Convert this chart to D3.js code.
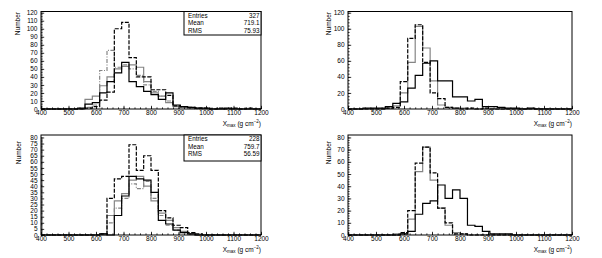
<!DOCTYPE html>
<html>
<head>
<meta charset="utf-8">
<script src="https://cdn.jsdelivr.net/npm/d3@7"></script>
<style>
  body { margin: 0; background: #fff; }
  svg { display: block; font-family: "Liberation Sans", Arial, sans-serif; }
</style>
</head>
<body>
<svg width="602" height="258"></svg>
<script>
var svg = d3.select("svg");

// binning: 30 bins from 400 to 1200 g/cm2
var xLo = 400, xHi = 1200, nBins = 30;
var xTicks = [400, 500, 600, 700, 800, 900, 1000, 1100, 1200];

// top left
var tlDash    = [0,0,0,0,0,0,1,3,11,21,100,108,64,40,40,24,24,17,4,3,2,1,1,0,1,0,1,0,1,0];
var tlDashDot = [0,0,0,0,0,0,2,5,48,73,52,55,50,42,30,22,16,10,4,2,1,0,0,0,0,0,0,0,0,0];
var tlBlack   = [0,0,0,0,0,1,6,8,20,34,45,58,34,28,22,18,12,20,5,3,2,1,1,0,0,1,0,0,0,0];
var tlGray    = [0,0,0,0,0,0,12,16,29,40,50,53,55,52,34,20,16,8,3,2,1,1,0,0,0,0,0,0,0,0];
var tlStats   = [["Entries", "327"], ["Mean", "719.1"], ["RMS", "75.93"]];
var tlYTicks  = [0,10,20,30,40,50,60,70,80,90,100,110,120];

// top right
var trDash    = [0,0,0,0,0,1,2,34,88,105,58,20,13,2,1,0,1,0,1,0,0,0,0,0,0,0,0,0,0,0];
var trGray    = [0,0,0,0,0,1,4,20,58,103,76,35,5,2,1,1,0,0,0,0,0,0,0,0,0,0,0,0,0,0];
var trBlack   = [0,0,1,1,1,3,7,9,26,42,57,60,35,35,15,15,10,12,3,3,2,1,1,0,1,0,0,0,0,0];
var trYTicks  = [0,20,40,60,80,100,120];

// bottom left
var blDash    = [0,0,0,0,0,0,0,0,1,30,46,48,74,53,65,53,20,14,8,6,2,1,0,0,0,0,0,0,0,0];
var blDashDot = [0,0,0,0,0,0,0,0,1,10,22,30,42,38,44,30,16,8,4,2,1,0,0,0,0,0,0,0,0,0];
var blBlack   = [0,0,0,0,0,0,0,0,1,0,16,32,48,46,45,35,12,9,4,2,1,0,0,0,0,0,0,0,0,0];
var blGray    = [0,0,0,0,0,0,0,0,0,16,28,34,45,48,40,28,18,12,6,3,1,0,0,0,0,0,0,0,0,0];
var blStats   = [["Entries", "228"], ["Mean", "759.7"], ["RMS", "56.59"]];
var blYTicks  = [0,5,10,15,20,25,30,35,40,45,50,55,60,65,70,75,80];

// bottom right
var brDash    = [0,0,0,0,0,0,0,2,20,59,72,51,22,10,1,1,0,0,0,0,0,0,0,0,0,0,0,0,0,0];
var brGray    = [0,0,0,0,0,0,1,1,13,52,72,45,22,8,2,1,0,0,0,0,0,0,0,0,0,0,0,0,0,0];
var brBlack   = [0,0,0,0,0,0,0,1,3,17,26,28,41,30,37,30,8,7,3,1,1,1,0,0,0,0,0,0,0,0];
var brYTicks  = [0,10,20,30,40,50,60,70,80];

var edges = d3.range(nBins + 1).map(function(i) { return xLo + i * (xHi - xLo) / nBins; });

var BLACK = "#000", GRAY = "#858585";
var DASH = "4,1.5", DASHDOT = "4,1.5,1,1.5";

function drawPanel(p) {
  var g = svg.append("g").attr("transform", "translate(" + p.left + "," + p.top + ")");
  var x = d3.scaleLinear().domain([xLo, xHi]).range([0, p.width]);
  var y = d3.scaleLinear().domain([0, p.yMax]).range([p.height, 0]);

  var line = d3.line()
    .x(function(d) { return x(d[0]); })
    .y(function(d) { return y(d[1]); })
    .curve(d3.curveStepAfter);

  p.series.forEach(function(s) {
    var pts = s.values.map(function(v, i) { return [edges[i], v]; });
    pts.push([xHi, s.values[nBins - 1]]);
    g.append("path")
      .attr("d", line(pts))
      .attr("fill", "none")
      .attr("stroke", s.color)
      .attr("stroke-width", 1.2)
      .attr("stroke-dasharray", s.dash || null);
  });

  // x axis, ticks pointing inward
  var xMinor = g.append("g").attr("transform", "translate(0," + p.height + ")")
    .call(d3.axisBottom(x).tickValues(d3.range(400, 1201, 20)).tickSize(-1.6).tickFormat(""));
  var xMajor = g.append("g").attr("transform", "translate(0," + p.height + ")")
    .call(d3.axisBottom(x).tickValues(xTicks).tickSize(-3.2).tickPadding(1.5).tickFormat(d3.format("d")));

  var yMinor = g.append("g")
    .call(d3.axisLeft(y).tickValues(d3.range(0, p.yTicks[p.yTicks.length - 1] + 0.01, p.yMinor)).tickSize(-1.6).tickFormat(""));
  var yMajor = g.append("g")
    .call(d3.axisLeft(y).tickValues(p.yTicks).tickSize(-3.2).tickPadding(3.5).tickFormat(d3.format("d")));

  [xMinor, xMajor, yMinor, yMajor].forEach(function(a) {
    a.select(".domain").remove();
    a.selectAll("line").attr("stroke", "#000").attr("stroke-width", 0.8);
    a.selectAll("text").attr("font-size", 6.5).attr("fill", "#000").attr("font-family", "Liberation Sans, Arial, sans-serif");
  });

  g.append("rect")
    .attr("width", p.width).attr("height", p.height)
    .attr("fill", "none").attr("stroke", "#000").attr("stroke-width", 1);

  // x title
  var xt = g.append("text")
    .attr("x", p.width).attr("y", p.height + 16.5)
    .attr("text-anchor", "end").attr("font-size", 6.5).attr("fill", "#000");
  xt.append("tspan").text("X");
  xt.append("tspan").attr("font-size", 4.5).attr("dy", 1.5).text("max");
  xt.append("tspan").attr("dy", -1.5).text(" (g cm");
  xt.append("tspan").attr("font-size", 4.5).attr("dy", -2.5).text("\u22122");
  xt.append("tspan").attr("dy", 2.5).text(")");

  // y title
  g.append("text")
    .attr("transform", "translate(" + p.yTitleX + "," + p.yTitleY + ") rotate(-90)")
    .attr("text-anchor", "end").attr("font-size", 6.5).attr("fill", "#000")
    .text("Number");

  if (p.stats) {
    var bw = 77, bh = 23.5;
    var box = g.append("g").attr("transform", "translate(" + (p.width - bw) + ",0)");
    box.append("rect").attr("width", bw).attr("height", p.statsH || bh)
      .attr("fill", "#fff").attr("stroke", "#000").attr("stroke-width", 1);
    p.stats.forEach(function(r, i) {
      box.append("text").attr("x", 4).attr("y", 6 + i * 7.7)
        .attr("font-size", 6.3).attr("fill", "#000").text(r[0]);
      box.append("text").attr("x", bw - 1.5).attr("y", 6 + i * 7.7)
        .attr("font-size", 6.3).attr("fill", "#000").attr("text-anchor", "end").text(r[1]);
    });
  }
}

drawPanel({
  left: 41, top: 11.5, width: 220, height: 97.5, yMax: 121.5,
  yTicks: tlYTicks, yMinor: 2, yTitleX: -21, yTitleY: 0.5,
  series: [
    {values: tlGray, color: GRAY},
    {values: tlDashDot, color: GRAY, dash: DASHDOT},
    {values: tlBlack, color: BLACK},
    {values: tlDash, color: BLACK, dash: DASH}
  ],
  stats: tlStats
});

drawPanel({
  left: 348, top: 11.5, width: 224, height: 97.5, yMax: 121.5,
  yTicks: trYTicks, yMinor: 4, yTitleX: -17.5, yTitleY: 0.5,
  series: [
    {values: trGray, color: GRAY},
    {values: trBlack, color: BLACK},
    {values: trDash, color: BLACK, dash: DASH}
  ]
});

drawPanel({
  left: 41, top: 135, width: 220, height: 100, yMax: 82,
  yTicks: blYTicks, yMinor: 1, yTitleX: -20.5, yTitleY: 6,
  series: [
    {values: blGray, color: GRAY},
    {values: blDashDot, color: GRAY, dash: DASHDOT},
    {values: blBlack, color: BLACK},
    {values: blDash, color: BLACK, dash: DASH}
  ],
  stats: blStats, statsH: 26
});

drawPanel({
  left: 348, top: 135, width: 224, height: 100, yMax: 82,
  yTicks: brYTicks, yMinor: 2, yTitleX: -17.5, yTitleY: 6,
  series: [
    {values: brGray, color: GRAY},
    {values: brBlack, color: BLACK},
    {values: brDash, color: BLACK, dash: DASH}
  ]
});
</script>
</body>
</html>
